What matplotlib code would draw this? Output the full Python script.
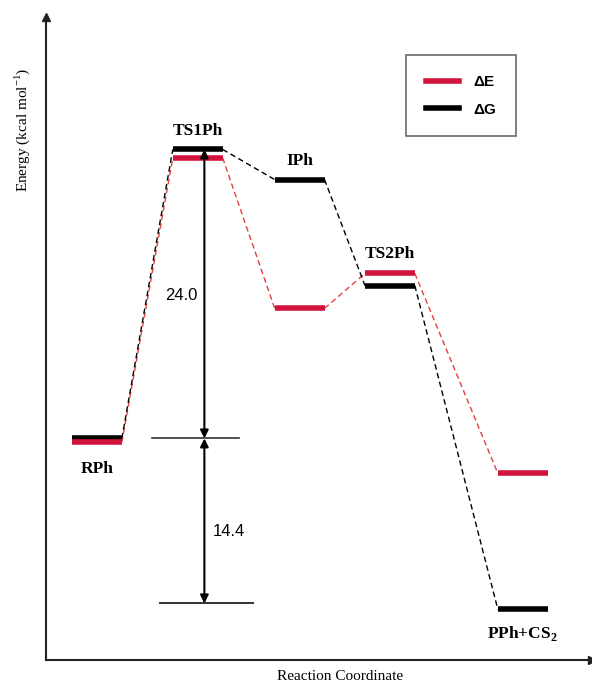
import matplotlib
matplotlib.use("Agg")
import matplotlib.pyplot as plt

plt.rcParams["mathtext.fontset"] = "custom"
plt.rcParams["mathtext.rm"] = "Liberation Serif"
plt.rcParams["mathtext.bf"] = "Liberation Serif:bold"

# states along the reaction coordinate
states = ["RPh", "TS1Ph", "IPh", "TS2Ph", "PPh+CS$_\\mathbf{2}$"]
state_x = [0.92, 2.74, 4.58, 6.21, 8.61]
dE = [-0.3, 23.3, 10.8, 13.7, -2.9]
dG = [0.0, 24.0, 21.5, 12.7, -14.2]
# barrier annotations: (from, to, label)
barriers = [(0.0, 24.0, "24.0"), (-13.7, 0.0, "14.4")]

red = "#d2143c"
red_dash = "#e4403f"
half = 0.45

fig = plt.figure(figsize=(5.92, 6.86), dpi=100)
ax = fig.add_axes([46 / 592, 26 / 686, 546 / 592, 643 / 686])
ax.set_xlim(0, 9.86)
ax.set_ylim(-18.4, 35.0)
for s in ("top", "right"):
    ax.spines[s].set_visible(False)
for s in ("left", "bottom"):
    ax.spines[s].set_linewidth(1.5)
    ax.spines[s].set_color("#222222")
ax.set_xticks([])
ax.set_yticks([])
ax.plot(0, 1, "^", color="#222222", ms=6, transform=ax.transAxes, clip_on=False)
ax.plot(1, 0, ">", color="#222222", ms=6, transform=ax.transAxes, clip_on=False)

# connectors
for vals, col in ((dE, red_dash), (dG, "black")):
    for i in range(len(states) - 1):
        ax.plot([state_x[i] + half, state_x[i + 1] - half], [vals[i], vals[i + 1]],
                ls=(0, (4, 2.5)), lw=1.0, color=col, zorder=1)

# levels
for i in range(len(states)):
    ax.plot([state_x[i] - half, state_x[i] + half], [dG[i], dG[i]],
            color="black", lw=4, solid_capstyle="butt", zorder=3)
    ax.plot([state_x[i] - half, state_x[i] + half], [dE[i], dE[i]],
            color=red, lw=4, solid_capstyle="butt", zorder=3)

# state labels
lab_off = [-2.2, 1.5, 1.5, 1.6, -2.0]
for i, name in enumerate(states):
    base = max(dE[i], dG[i]) if lab_off[i] > 0 else min(dE[i], dG[i])
    ax.text(state_x[i], base + lab_off[i], name, ha="center", va="center",
            fontsize=12.5, fontweight="bold", family="Liberation Serif")

# barrier arrows
ax_x = 2.86
ax.plot([1.92, 3.49], [0, 0], color="#333333", lw=1.2)
ax.plot([2.06, 3.73], [-13.7, -13.7], color="#333333", lw=1.4)
for lo, hi, txt in barriers:
    ax.annotate("", xy=(ax_x, hi), xytext=(ax_x, lo),
                arrowprops=dict(arrowstyle="<|-|>", color="black", lw=1.5,
                                mutation_scale=12, shrinkA=0, shrinkB=0))
ax.text(ax_x - 0.42, 11.9, barriers[0][2], ha="center", va="center",
        fontsize=12, family="Liberation Sans")
ax.text(ax_x + 0.45, -7.7, barriers[1][2], ha="center", va="center",
        fontsize=12, family="Liberation Sans")

# legend
leg = ax.legend(handles=[plt.Line2D([], [], color=red, lw=4),
                         plt.Line2D([], [], color="black", lw=4)],
                labels=["ΔE", "ΔG"], loc="upper left",
                bbox_to_anchor=(360 / 546, 1 - 38 / 643), borderaxespad=0,
                frameon=True, fancybox=False, edgecolor="#444444",
                handlelength=2.2, borderpad=1.3, labelspacing=0.9,
                handletextpad=0.9,
                prop={"family": "Liberation Sans", "weight": "bold", "size": 11})
leg.get_frame().set_linewidth(1.2)

fig.text(22 / 592, 1 - 130 / 686, "Energy (kcal mol$^{-1}$)", rotation=90,
         ha="center", va="center", fontsize=11, family="Liberation Serif")
fig.text(340 / 592, 1 - 677 / 686, "Reaction Coordinate", ha="center",
         va="center", fontsize=11, family="Liberation Serif")

fig.savefig("out.png", dpi=100)
